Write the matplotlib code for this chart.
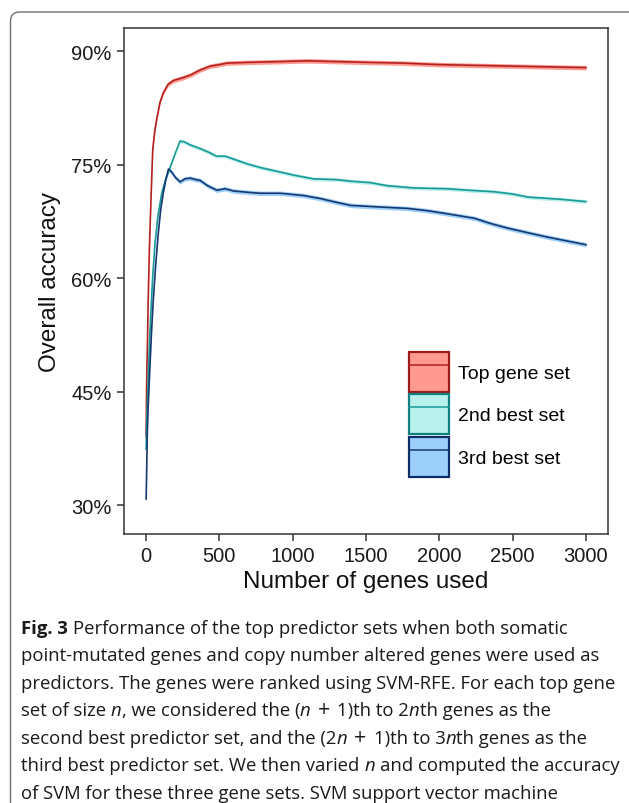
import matplotlib
matplotlib.use("Agg")
import matplotlib.pyplot as plt
from matplotlib.patches import Patch, FancyBboxPatch
from matplotlib.lines import Line2D
from matplotlib.legend_handler import HandlerTuple
from matplotlib.ticker import FuncFormatter
import numpy as np

# ---- data (n genes, accuracy %) ----
top_n = [1, 3, 6, 9, 15, 23, 35, 46, 60, 73, 95, 118, 150, 187, 240, 300, 370, 437,
         500, 551, 700, 915, 1100, 1300, 1500, 1750, 2000, 2250, 2500, 2750, 3000]
top_acc = [39.0, 44.0, 48.0, 50.6, 57.0, 63.8, 71.0, 77.0, 79.5, 81.0, 83.2, 84.5, 85.6,
           86.1, 86.4, 86.8, 87.5, 88.0, 88.2, 88.4, 88.5, 88.6, 88.7, 88.6, 88.5, 88.4,
           88.2, 88.1, 88.0, 87.9, 87.8]

second_n = [1, 5, 10, 16, 24, 32, 45, 61, 80, 107, 130, 164, 200, 232, 260, 300, 369,
            430, 480, 540, 600, 688, 779, 916, 1007, 1143, 1300, 1394, 1531, 1645, 1827,
            2055, 2200, 2374, 2500, 2602, 2830, 3000]
second_acc = [37.4, 41.0, 44.0, 47.0, 51.5, 55.0, 60.0, 64.5, 68.0, 71.2, 72.8, 74.6,
              76.5, 78.1, 78.0, 77.6, 77.1, 76.6, 76.1, 76.1, 75.7, 75.1, 74.6, 74.0,
              73.6, 73.1, 73.0, 72.8, 72.6, 72.2, 71.9, 71.8, 71.6, 71.4, 71.1, 70.7,
              70.4, 70.1]

third_n = [1, 5, 9, 16, 27, 38, 50, 65, 84, 100, 118, 135, 153, 175, 200, 232, 265, 300,
           340, 369, 420, 483, 540, 597, 711, 779, 916, 1075, 1189, 1300, 1394, 1577,
           1782, 1919, 2050, 2238, 2350, 2465, 2600, 2739, 2870, 3000]
third_acc = [30.8, 35.0, 39.7, 43.5, 48.4, 53.0, 57.2, 61.5, 66.0, 69.0, 71.3, 73.0,
             74.4, 74.0, 73.3, 72.7, 73.1, 73.2, 73.0, 72.9, 72.2, 71.6, 71.8, 71.5,
             71.3, 71.2, 71.2, 70.9, 70.5, 70.0, 69.6, 69.4, 69.2, 68.9, 68.5, 67.9,
             67.2, 66.6, 66.0, 65.4, 64.9, 64.4]

band = [0.3, 0.25, 0.3]   # half width of the shaded ribbons
labels = ["Top gene set", "2nd best set", "3rd best set"]
line_colors = ["#B22222", "#1A9A96", "#17376F"]
fill_colors = ["#FF9A90", "#B8F0EC", "#9CD0FA"]
edge_colors = ["#9B1B1B", "#108080", "#0D2E66"]

x_ticks = [0, 500, 1000, 1500, 2000, 2500, 3000]
y_ticks = [30, 45, 60, 75, 90]

# caption pieces: (text, style); "plus" is a math plus with wider spacing
caption = [
    [("Fig. 3", "bold"), (" Performance of the top predictor sets when both somatic", "normal")],
    [("point-mutated genes and copy number altered genes were used as", "normal")],
    [("predictors. The genes were ranked using SVM-RFE. For each top gene", "normal")],
    [("set of size ", "normal"), ("n", "italic"), (", we considered the (", "normal"),
     ("n", "italic"), ("+", "plus"), ("1)th to 2", "normal"), ("n", "italic"),
     ("th genes as the", "normal")],
    [("second best predictor set, and the (2", "normal"), ("n", "italic"),
     ("+", "plus"), ("1)th to 3", "normal"), ("n", "italic"), ("th genes as the", "normal")],
    [("third best predictor set. We then varied ", "normal"), ("n", "italic"),
     (" and computed the accuracy", "normal")],
    [("of SVM for these three gene sets. SVM support vector machine", "normal")],
]

W, H = 629, 804
fig = plt.figure(figsize=(W / 100, H / 100), dpi=100)
fig.patch.set_facecolor("white")

# outer frame of the figure panel
frame = FancyBboxPatch((10.5, -30), 700, 791 + 30, boxstyle="round,pad=0,rounding_size=9",
                       transform=None, facecolor="none", edgecolor="#6e6e6e", linewidth=1.0)
fig.add_artist(frame)

ax = fig.add_axes([124 / W, 1 - 535 / H, 484 / W, 506 / H])
series = [(top_n, top_acc), (second_n, second_acc), (third_n, third_acc)]
for i, (n, acc) in enumerate(series):
    acc = np.array(acc)
    ax.fill_between(n, acc - band[i], acc + band[i], color=fill_colors[i], lw=0, zorder=2)
    ax.plot(n, acc, color=line_colors[i], lw=1.2, zorder=3)

ax.set_xlim(-150, 3150)
ax.set_ylim(26.17, 93.04)
ax.set_xticks(x_ticks)
ax.set_yticks(y_ticks)
ax.yaxis.set_major_formatter(FuncFormatter(lambda v, p: f"{v:.0f}%"))
for s in ax.spines.values():
    s.set_color("#333333")
    s.set_linewidth(1.1)
ax.tick_params(length=5, width=1.1, color="#333333", labelsize=14.5, labelcolor="#1a1a1a",
               pad=4)
for lab in ax.get_xticklabels() + ax.get_yticklabels():
    lab.set_family("Liberation Sans")
ax.set_xlabel("Number of genes used", fontsize=17.5, family="Liberation Sans",
              color="#111111", labelpad=3)
ax.set_ylabel("Overall accuracy", fontsize=17.5, family="Liberation Sans",
              color="#111111", labelpad=7)

handles = []
for i in range(3):
    handles.append((Patch(facecolor=fill_colors[i], edgecolor=edge_colors[i], linewidth=1.6),
                    Line2D([], [], color=line_colors[i], lw=1.1)))
leg = ax.legend(handles, labels, handler_map={tuple: HandlerTuple(ndivide=1, pad=0)},
                loc="upper left", bbox_to_anchor=((409 - 124) / 484, (535 - 353) / 506),
                frameon=False, borderpad=0, borderaxespad=0, handlelength=2.05,
                handleheight=2.79, labelspacing=0.12, handletextpad=0.45,
                prop={"family": "Liberation Sans", "size": 14})

# caption, drawn piece by piece in pixel coordinates
fig.canvas.draw()
renderer = fig.canvas.get_renderer()
cap_size = 13.3
cap_font = "Open Sans"
probe = fig.text(0, 0, "a a", fontsize=cap_size, family=cap_font)
w2 = probe.get_window_extent(renderer).width
probe.set_text("aa")
space_w = w2 - probe.get_window_extent(renderer).width
probe.remove()

y0 = H - 634
for k, line in enumerate(caption):
    x = 21
    y = y0 - k * 27.5
    for txt, style in line:
        lead = len(txt) - len(txt.lstrip(" "))
        trail = len(txt) - len(txt.rstrip(" "))
        if style == "plus":
            lead = trail = 1.5
        x += lead * space_w
        body = txt.strip(" ")
        t = fig.text(x, y, body, transform=None,
                     fontsize=cap_size * 1.15 if style == "plus" else cap_size,
                     family=cap_font,
                     fontweight="bold" if style == "bold" else "normal",
                     fontstyle="italic" if style == "italic" else "normal",
                     color="#1a1a1a", va="baseline")
        x = t.get_window_extent(renderer).x1 + trail * space_w

fig.savefig("out.png", dpi=100)
